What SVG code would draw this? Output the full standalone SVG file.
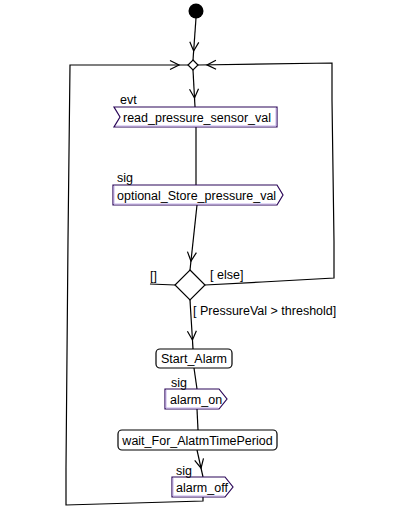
<svg xmlns="http://www.w3.org/2000/svg" width="404" height="518" viewBox="0 0 404 518">
<style>
.t{font-family:"Liberation Sans",Arial,sans-serif;font-size:12.5px;fill:#000}
.ln{fill:none;stroke:#000;stroke-width:1.2}
.act{fill:#fff;stroke:#000;stroke-width:1.2}
.sg{fill:#fff;stroke:#2a0658;stroke-width:1.2}
.hl{fill:none;stroke:#c4b0e8;stroke-width:1}
</style>
<defs>
<marker id="ah" markerUnits="userSpaceOnUse" viewBox="-10 -6 24 12" markerWidth="24" markerHeight="12" refX="9" refY="0" orient="auto" overflow="visible">
<path d="M-9,-4.5 L0,0 L-9,4.5" fill="none" stroke="#000" stroke-width="1.2"/>
</marker>
</defs>
<rect width="404" height="518" fill="#fff"/>
<g id="connectors">
<path class="ln" d="M196,18 L193,60" marker-end="url(#ah)"/>
<path class="ln" d="M193,70 L195,107" marker-end="url(#ah)"/>
<path class="ln" d="M196,127 L196,185"/>
<path class="ln" d="M197,205 L190,270" marker-end="url(#ah)"/>
<path class="ln" d="M190,300 L193,349" marker-end="url(#ah)"/>
<path class="ln" d="M194,368 L197,389"/>
<path class="ln" d="M197,409 L198,430"/>
<path class="ln" d="M197,450 L203,477" marker-end="url(#ah)"/>
<path class="ln" d="M203,497 L203,501 L66,505 L66,468 L68,240 L70,65 L188,65" marker-end="url(#ah)"/>
<path class="ln" d="M205,285 L262,282 L334,278 L334,242 L332,100 L332,63 L198,65" marker-end="url(#ah)"/>
<path class="ln" d="M150,284 L175,285"/>
<text class="t" x="150" y="280">[]</text>
<text class="t" x="210" y="279">[ else]</text>
<text class="t" x="193" y="315">[ PressureVal &gt; threshold]</text>
</g>
<g id="initial">
<circle cx="196" cy="11" r="7.5" fill="#000"/>
</g>
<g id="merge">
<path class="act" d="M193,60 L198,65 L193,70 L188,65 Z"/>
</g>
<g id="read_pressure_sensor_val">
<path class="sg" d="M114,107 L277,107 L277,127 L114,127 L120,117 Z"/>
<path class="hl" d="M276,108 L276,126 L116,126"/>
<text class="t" x="120" y="104">evt</text>
<text class="t" x="123" y="122">read_pressure_sensor_val</text>
</g>
<g id="optional_Store_pressure_val">
<path class="sg" d="M113,185 L277,185 L283,195 L277,205 L113,205 Z"/>
<path class="hl" d="M114,186 L114,204 L276,204"/>
<text class="t" x="117" y="182">sig</text>
<text class="t" x="117" y="200">optional_Store_pressure_val</text>
</g>
<g id="decision">
<path class="act" d="M190,270 L205,285 L190,300 L175,285 Z"/>
</g>
<g id="Start_Alarm">
<rect class="act" x="156" y="349" width="76" height="19" rx="4"/>
<text class="t" x="194" y="363" text-anchor="middle">Start_Alarm</text>
</g>
<g id="alarm_on">
<path class="sg" d="M165,389 L219,389 L227,399 L219,409 L165,409 Z"/>
<path class="hl" d="M166,390 L166,408 L218,408"/>
<text class="t" x="171" y="387">sig</text>
<text class="t" x="170" y="404">alarm_on</text>
</g>
<g id="wait_For_AlatmTimePeriod">
<rect class="act" x="118" y="430" width="159" height="20" rx="4"/>
<text class="t" x="197.5" y="444.5" text-anchor="middle">wait_For_AlatmTimePeriod</text>
</g>
<g id="alarm_off">
<path class="sg" d="M172,477 L225,477 L233,487 L225,497 L172,497 Z"/>
<path class="hl" d="M173,478 L173,496 L224,496"/>
<text class="t" x="176" y="475">sig</text>
<text class="t" x="176" y="492">alarm_off</text>
</g>
</svg>
